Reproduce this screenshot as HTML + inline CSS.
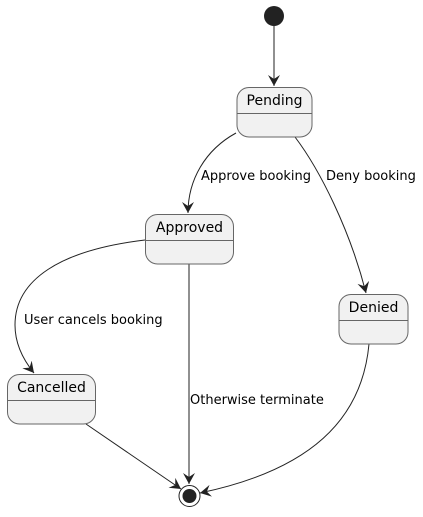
<!DOCTYPE html>
<html><head><style>html,body{margin:0;padding:0;background:#fff}svg text{font-family:"DejaVu Sans",sans-serif;fill:#000}</style></head>
<body>
<svg width="423" height="512" viewBox="0 0 423 512" xmlns="http://www.w3.org/2000/svg">
<defs>
<marker id="a" viewBox="0 0 12 12" refX="11" refY="6" markerWidth="12" markerHeight="12" markerUnits="userSpaceOnUse" orient="auto">
<path d="M0,0 L11,6 L0,12 L4,6 Z" fill="#222"/>
</marker>
</defs>
<g fill="none" stroke="#222" stroke-width="1">
<line x1="274" y1="26" x2="274" y2="86" marker-end="url(#a)"/>
<path d="M236,133 C205,150 188,180 188,213" marker-end="url(#a)"/>
<path d="M295,137 C320,170 350,230 366,293" marker-end="url(#a)"/>
<path d="M145,240 C60,250 15,280 15,325 C15,345 25,362 34,373" marker-end="url(#a)"/>
<line x1="189" y1="264" x2="189" y2="484" marker-end="url(#a)"/>
<path d="M86,424 L181,489" marker-end="url(#a)"/>
<path d="M369,344 C362,420 310,470 200,493" marker-end="url(#a)"/>
</g>
<circle cx="274" cy="16" r="10" fill="#222"/>
<circle cx="189.5" cy="496" r="10.5" fill="#fff" stroke="#222"/>
<circle cx="189.5" cy="496" r="7" fill="#222"/>
<g fill="#f1f1f1" stroke="#666" stroke-width="1">
<rect x="237" y="87.5" width="75" height="49.5" rx="12"/>
<rect x="145.5" y="214.5" width="88" height="49.5" rx="12"/>
<rect x="339" y="294.5" width="69" height="49.5" rx="12"/>
<rect x="7.5" y="374.5" width="88" height="49.5" rx="12"/>
</g>
<g stroke="#666">
<line x1="237" y1="113.5" x2="312" y2="113.5"/>
<line x1="145.5" y1="240.5" x2="233.5" y2="240.5"/>
<line x1="339" y1="320.5" x2="408" y2="320.5"/>
<line x1="7.5" y1="400.5" x2="95.5" y2="400.5"/>
</g>
<g font-size="14">
<text x="274.5" y="105" text-anchor="middle">Pending</text>
<text x="189.5" y="232" text-anchor="middle">Approved</text>
<text x="373.5" y="312" text-anchor="middle">Denied</text>
<text x="51.5" y="392" text-anchor="middle">Cancelled</text>
</g>
<g font-size="13">
<text x="201" y="180">Approve booking</text>
<text x="326" y="180">Deny booking</text>
<text x="24" y="324">User cancels booking</text>
<text x="190" y="404">Otherwise terminate</text>
</g>
</svg>
</body></html>
